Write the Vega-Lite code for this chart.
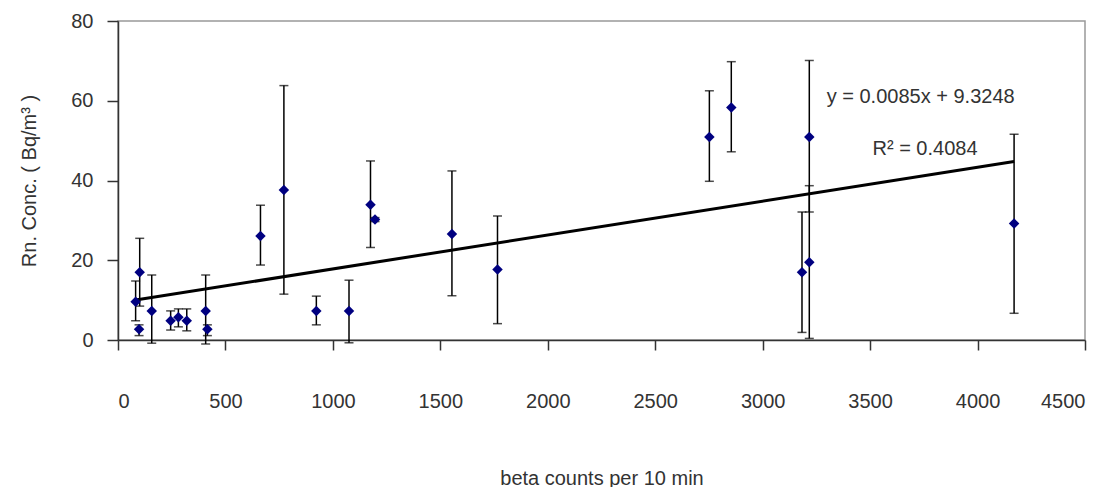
{
  "$schema": "https://vega.github.io/schema/vega-lite/v6.json",
  "autosize": {"type": "none"},
  "width": 967,
  "height": 319,
  "padding": {"left": 118, "top": 21, "right": 25, "bottom": 147},
  "background": "white",
  "config": {
    "font": "Liberation Sans",
    "view": {"stroke": "#999999", "strokeWidth": 1.5},
    "axis": {
      "grid": false,
      "domainColor": "#333333",
      "domainWidth": 1.5,
      "tickColor": "#333333",
      "tickWidth": 1.5,
      "labelFont": "Liberation Sans",
      "labelFontSize": 20,
      "labelColor": "#333333",
      "titleFont": "Liberation Sans",
      "titleFontSize": 20,
      "titleFontWeight": "normal",
      "titleColor": "#333333"
    }
  },
  "datasets": {
    "pts": [
      {"beta": 82, "rn": 9.6, "lo": 4.8, "hi": 14.8},
      {"beta": 98, "rn": 2.7, "lo": 1.1, "hi": 3.8},
      {"beta": 101, "rn": 17.0, "lo": 8.5, "hi": 25.5},
      {"beta": 157, "rn": 7.3, "lo": -0.8, "hi": 16.3},
      {"beta": 245, "rn": 4.8, "lo": 2.5, "hi": 7.3},
      {"beta": 281, "rn": 5.7, "lo": 3.3, "hi": 7.8},
      {"beta": 320, "rn": 4.8, "lo": 2.3, "hi": 7.8},
      {"beta": 408, "rn": 7.3, "lo": -1.0, "hi": 16.3},
      {"beta": 416, "rn": 2.7, "lo": 1.1, "hi": 3.8},
      {"beta": 663, "rn": 26.1, "lo": 18.8, "hi": 33.8},
      {"beta": 772, "rn": 37.6, "lo": 11.5, "hi": 63.8},
      {"beta": 923, "rn": 7.3, "lo": 3.8, "hi": 11.0},
      {"beta": 1075, "rn": 7.3, "lo": -0.7, "hi": 15.0},
      {"beta": 1175, "rn": 33.9, "lo": 23.2, "hi": 44.9},
      {"beta": 1196, "rn": 30.2, "lo": 29.7, "hi": 30.7},
      {"beta": 1554, "rn": 26.6, "lo": 11.1, "hi": 42.4},
      {"beta": 1766, "rn": 17.7, "lo": 4.1, "hi": 31.1},
      {"beta": 2752, "rn": 50.9, "lo": 39.8, "hi": 62.5},
      {"beta": 2854, "rn": 58.3, "lo": 47.2, "hi": 69.8},
      {"beta": 3217, "rn": 50.9, "lo": 32.1, "hi": 70.1},
      {"beta": 3183, "rn": 17.0, "lo": 1.9, "hi": 32.1},
      {"beta": 3217, "rn": 19.5, "lo": 0.4, "hi": 38.7},
      {"beta": 4170, "rn": 29.2, "lo": 6.7, "hi": 51.6}
    ],
    "trend": [
      {"beta": 82, "rn": 10.02},
      {"beta": 4170, "rn": 44.77}
    ],
    "notes": [
      {"beta": 3298, "rn": 61.0, "label": "y = 0.0085x + 9.3248"},
      {"beta": 3511, "rn": 48.0, "label": "R² = 0.4084"}
    ]
  },
  "encoding": {
    "x": {
      "field": "beta",
      "type": "quantitative",
      "scale": {"domain": [0, 4500], "nice": false, "zero": false},
      "axis": {
        "values": [0, 500, 1000, 1500, 2000, 2500, 3000, 3500, 4000, 4500],
        "format": "d",
        "tickSize": 10,
        "labelPadding": 41,
        "title": "beta counts per 10 min",
        "titlePadding": 57
      }
    },
    "y": {
      "field": "rn",
      "type": "quantitative",
      "scale": {"domain": [0, 80], "nice": false},
      "axis": {
        "values": [0, 20, 40, 60, 80],
        "format": "d",
        "tickSize": 11,
        "labelPadding": 14,
        "title": "Rn. Conc. ( Bq/m³ )",
        "titlePadding": 31
      }
    }
  },
  "layer": [
    {
      "data": {"name": "pts"},
      "mark": {"type": "rule", "color": "#000000", "strokeWidth": 1.5},
      "encoding": {
        "y": {"field": "lo", "type": "quantitative"},
        "y2": {"field": "hi"}
      }
    },
    {
      "data": {"name": "pts"},
      "mark": {"type": "tick", "orient": "horizontal", "color": "#000000", "size": 9, "thickness": 1.5},
      "encoding": {
        "y": {"field": "lo", "type": "quantitative"}
      }
    },
    {
      "data": {"name": "pts"},
      "mark": {"type": "tick", "orient": "horizontal", "color": "#000000", "size": 9, "thickness": 1.5},
      "encoding": {
        "y": {"field": "hi", "type": "quantitative"}
      }
    },
    {
      "data": {"name": "trend"},
      "mark": {"type": "line", "color": "#000000", "strokeWidth": 3},
      "encoding": {}
    },
    {
      "data": {"name": "pts"},
      "mark": {"type": "point", "shape": "diamond", "filled": true, "color": "#000080", "size": 110, "opacity": 1},
      "encoding": {}
    },
    {
      "data": {"name": "notes"},
      "mark": {"type": "text", "align": "left", "baseline": "middle", "fontSize": 20, "color": "#333333", "font": "Liberation Sans"},
      "encoding": {
        "text": {"field": "label"}
      }
    }
  ]
}
